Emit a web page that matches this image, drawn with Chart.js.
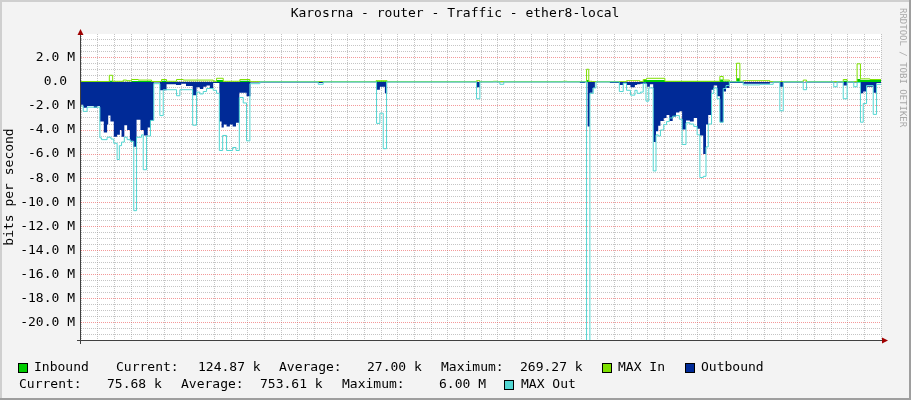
<!DOCTYPE html>
<html>
<head>
<meta charset="utf-8">
<script src="https://cdn.jsdelivr.net/npm/chart.js@4.4.1/dist/chart.umd.min.js"></script>
<style>
html,body{margin:0;padding:0;background:#F3F3F3;}
#wrap{width:911px;height:400px;position:relative;}
canvas{display:block;}
</style>
</head>
<body>
<div id="wrap"><canvas id="c" width="911" height="400"></canvas></div>
<script>
// ---- DATA (time = minutes after 18:00, values in Mbit/s) ----
const xTickLabels = ['18:00','20:00','22:00','00:00','02:00','04:00','06:00','08:00','10:00','12:00','14:00','16:00'];

const inboundT = [-9,42,48,82,118,136,145,235,247,277,295,522,542,901,905,1003,1042,1141,1147,1158,1171,1177,1363,1370,1388,1394,1431];
const inboundV = [0.02,0.1,0.02,0.08,0.02,0.1,0.02,0.15,0.02,0.1,0,0.05,0,0.15,0,0.15,0.05,0.2,0.05,0,0.3,0,0.1,0,0.25,0.15,0.15];

const maxInT = [-9,42,48,67,73,82,94,118,136,145,163,175,229,235,247,277,295,522,542,703,709,733,740,859,866,901,905,911,973,997,1003,1009,1042,1141,1147,1158,1171,1177,1183,1231,1291,1297,1363,1370,1388,1394,1411,1431];
const maxInV = [0.03,0.55,0.05,0.15,0.1,0.2,0.15,0.03,0.2,0.05,0.2,0.15,0.05,0.3,0.05,0.2,0.02,0.1,0.02,0.1,0.02,0.05,0.02,0.05,0.02,1.05,0.05,0.02,0.1,0.02,0.2,0.3,0.05,0.45,0.15,0.02,1.55,0.05,0.1,0.02,0.15,0.02,0.2,0.02,1.5,0.25,0.2,0.2];

const outboundT = [-9,-5,2,14,20,25,32,38,40,44,50,56,61,64,69,74,79,85,91,98,104,111,117,122,133,145,162,171,180,192,199,205,211,217,223,229,240,244,248,253,259,264,270,276,289,296,418,427,522,529,538,542,703,709,889,898,903,907,912,916,943,960,967,973,980,988,992,998,1010,1015,1021,1026,1030,1034,1040,1045,1050,1056,1062,1068,1073,1080,1087,1094,1100,1105,1111,1116,1120,1126,1130,1136,1141,1147,1152,1158,1183,1231,1249,1255,1363,1370,1388,1394,1399,1405,1417,1423,1431];
const outboundV = [-1.9,-2.15,-2.0,-2.15,-2.0,-3.3,-4.2,-3.55,-2.8,-3.3,-4.55,-4.4,-4.0,-4.55,-3.6,-4.0,-4.9,-5.4,-3.15,-4.0,-4.45,-3.8,-3.2,-0.05,-0.7,-0.2,-0.25,-0.15,-0.35,-1.1,-0.45,-0.6,-0.4,-0.3,-0.5,-0.1,-3.3,-3.8,-3.55,-3.7,-3.55,-3.7,-3.4,-0.9,-1.2,-0.05,-0.1,-0.02,-0.65,-0.4,-0.95,-0.02,-0.45,-0.02,-0.1,-0.02,-3.7,-0.9,-0.5,-0.02,-0.1,-0.25,-0.1,-0.25,-0.45,-0.25,-0.2,-0.15,-0.4,-0.2,-5.0,-4.1,-3.65,-3.25,-3.0,-2.75,-3.25,-2.9,-2.55,-2.45,-3.95,-3.2,-3.3,-3.0,-3.9,-4.45,-6.0,-3.55,-2.75,-0.65,-0.3,-1.2,-3.35,-0.8,-0.5,-0.1,-0.15,-0.05,-0.4,-0.05,-0.3,-0.05,-0.1,-0.95,-0.8,-0.4,-0.9,-0.1,-0.1];

const maxOutT = [-9,-5,2,25,28,38,45,50,56,60,64,69,74,80,86,91,100,103,109,116,122,133,139,163,169,192,199,205,211,217,229,235,240,246,253,264,270,276,283,289,295,313,418,427,523,529,535,541,703,709,745,752,901,907,913,918,960,967,973,980,988,992,998,1003,1008,1013,1021,1026,1030,1034,1040,1045,1050,1056,1062,1068,1073,1080,1087,1094,1100,1105,1111,1116,1120,1126,1130,1136,1141,1147,1152,1158,1183,1213,1237,1249,1255,1291,1297,1346,1352,1363,1370,1382,1388,1394,1399,1405,1417,1423,1431];
const maxOutV = [-2.0,-2.45,-2.1,-4.65,-4.8,-4.6,-4.75,-5.1,-6.45,-5.3,-5.0,-4.6,-4.8,-4.95,-10.7,-4.6,-4.4,-7.3,-4.5,-3.2,-0.15,-2.8,-0.65,-1.15,-0.65,-3.6,-0.85,-1.0,-0.8,-0.55,-0.7,-0.95,-5.7,-4.45,-5.7,-5.45,-5.7,-1.3,-1.75,-4.9,-0.15,0,-0.2,0,-3.45,-2.6,-5.55,0,-1.4,0,-0.2,0,-23,-0.95,-0.5,0,-0.8,-0.1,-0.7,-1.1,-0.7,-0.95,-0.85,-0.1,-1.6,-0.5,-7.4,-4.4,-4.5,-4.0,-3.55,-3.3,-3.0,-2.85,-2.8,-3.1,-5.2,-3.4,-3.5,-3.7,-4.4,-7.95,-7.85,-5.4,-3.5,-0.95,-0.5,-1.4,-3.35,-0.55,-0.3,0,-0.25,-0.2,0,-2.4,0,-0.65,0,-0.4,0,-1.4,0,-0.4,-0.05,-3.35,-1.8,-0.3,-2.7,-0.2,-0.2];

const inStats  = ['124.87 k', '27.00 k', '269.27 k'];
const outStats = ['75.68 k', '753.61 k', '6.00 M'];

// ---- COLORS ----
const C_IN = '#00CC00', C_MAXIN = '#7EE000', C_OUT = '#002A97', C_MAXOUT = '#52D6D2';
const FONT = '"DejaVu Sans Mono", monospace';

const pts = (t, v) => t.map((x, i) => ({x: x, y: v[i]}));

const isMajorY = v => Math.abs(v / 2 - Math.round(v / 2)) < 1e-6;

const decor = {
  id: 'decor',
  beforeDraw(chart) {
    const ctx = chart.ctx, a = chart.chartArea;
    ctx.save();
    ctx.fillStyle = '#F3F3F3';
    ctx.fillRect(0, 0, 911, 400);
    ctx.fillStyle = '#CFCFCF';
    ctx.fillRect(0, 0, 911, 2); ctx.fillRect(0, 0, 2, 400);
    ctx.fillStyle = '#9E9E9E';
    ctx.fillRect(0, 398, 911, 2); ctx.fillRect(909, 0, 2, 400);
    ctx.fillStyle = '#FFFFFF';
    ctx.fillRect(a.left, a.top, a.right - a.left, a.bottom - a.top);
    ctx.restore();
  },
  afterDraw(chart) {
    const ctx = chart.ctx, a = chart.chartArea;
    ctx.save();
    ctx.strokeStyle = '#404040';
    ctx.lineWidth = 1;
    ctx.beginPath();
    ctx.moveTo(a.left - 0.5, a.top - 3); ctx.lineTo(a.left - 0.5, a.bottom + 4);
    ctx.moveTo(a.left - 4, a.bottom + 0.5); ctx.lineTo(a.right + 4, a.bottom + 0.5);
    ctx.stroke();
    ctx.fillStyle = '#A00000';
    ctx.beginPath();
    ctx.moveTo(a.left - 3.5, a.top + 1); ctx.lineTo(a.left + 2.5, a.top + 1); ctx.lineTo(a.left - 0.5, a.top - 5);
    ctx.closePath(); ctx.fill();
    ctx.beginPath();
    ctx.moveTo(a.right + 1, a.bottom - 2.5); ctx.lineTo(a.right + 1, a.bottom + 3.5); ctx.lineTo(a.right + 7, a.bottom + 0.5);
    ctx.closePath(); ctx.fill();

    ctx.fillStyle = '#000';
    ctx.font = '13px ' + FONT;
    ctx.textBaseline = 'middle';
    ctx.textAlign = 'center';
    ctx.fillText('Karosrna - router - Traffic - ether8-local', 455, 14);

    ctx.save();
    ctx.translate(10, 187);
    ctx.rotate(-Math.PI / 2);
    ctx.fillText('bits per second', 0, 0);
    ctx.restore();

    ctx.save();
    ctx.translate(902, 8);
    ctx.rotate(Math.PI / 2);
    ctx.font = '9px ' + FONT;
    ctx.fillStyle = '#A8A8A8';
    ctx.textAlign = 'left';
    ctx.fillText('RRDTOOL / TOBI OETIKER', 0, 0);
    ctx.restore();

    ctx.textAlign = 'left';
    ctx.font = '13px ' + FONT;
    const box = (x, y, col) => {
      ctx.fillStyle = col; ctx.fillRect(x, y - 5, 10, 10);
      ctx.strokeStyle = '#000'; ctx.lineWidth = 1; ctx.strokeRect(x + 0.5, y - 4.5, 9, 9);
      ctx.fillStyle = '#000';
    };
    const t = (s, x, y) => ctx.fillText(s, x, y);
    const y1 = 368, y2 = 385;
    box(18, y1, C_IN); t('Inbound', 34, y1);
    t('Current:', 116, y1); t(inStats[0], 198, y1);
    t('Average:', 279, y1); t(inStats[1], 367, y1);
    t('Maximum:', 441, y1); t(inStats[2], 520, y1);
    box(602, y1, C_MAXIN); t('MAX In', 618, y1);
    box(685, y1, C_OUT); t('Outbound', 701, y1);
    t('Current:', 19, y2); t(outStats[0], 107, y2);
    t('Average:', 181, y2); t(outStats[1], 260, y2);
    t('Maximum:', 342, y2); t(outStats[2], 439, y2);
    box(504, y2, C_MAXOUT); t('MAX Out', 521, y2);
    ctx.restore();
  }
};

new Chart(document.getElementById('c'), {
  type: 'line',
  data: {
    datasets: [
      { label: 'Inbound', data: pts(inboundT, inboundV), stepped: true, fill: 'origin',
        backgroundColor: C_IN, borderColor: 'rgba(0,0,0,0)', borderWidth: 0, pointRadius: 0, order: 4 },
      { label: 'MAX In', data: pts(maxInT, maxInV), stepped: true, fill: false,
        borderColor: C_MAXIN, borderWidth: 1, pointRadius: 0, order: 3 },
      { label: 'Outbound', data: pts(outboundT, outboundV), stepped: true, fill: 'origin',
        backgroundColor: C_OUT, borderColor: 'rgba(0,0,0,0)', borderWidth: 0, pointRadius: 0, order: 2 },
      { label: 'MAX Out', data: pts(maxOutT, maxOutV), stepped: true, fill: false,
        borderColor: C_MAXOUT, borderWidth: 1, pointRadius: 0, order: 1 }
    ]
  },
  options: {
    responsive: false,
    animation: false,
    devicePixelRatio: 1,
    layout: { padding: { left: 0, top: 34, right: 30, bottom: 40 } },
    plugins: { legend: { display: false }, tooltip: { enabled: false }, title: { display: false } },
    scales: {
      x: {
        type: 'linear', min: -9, max: 1431,
        afterFit: s => { s.height = 20; },
        border: { display: false, dash: [1, 1] },
        grid: {
          drawTicks: false,
          color: c => (c.tick && c.tick.value % 120 === 0) ? 'rgba(235,70,70,0.55)' : 'rgba(150,150,150,0.55)',
          lineWidth: 1
        },
        ticks: {
          stepSize: 30, includeBounds: false, autoSkip: false, maxRotation: 0, minRotation: 0,
          maxTicksLimit: 1000, padding: 1, color: '#000',
          font: { family: FONT, size: 13 },
          callback: v => (v % 120 === 0 && v >= 0) ? xTickLabels[v / 120] : ''
        }
      },
      y: {
        type: 'linear', min: -21.45, max: 3.98,
        afterFit: s => { s.width = 81; },
        border: { display: false, dash: [1, 1] },
        grid: {
          drawTicks: false,
          color: c => (c.tick && isMajorY(c.tick.value)) ? 'rgba(235,70,70,0.55)' : 'rgba(150,150,150,0.55)',
          lineWidth: 1
        },
        ticks: {
          stepSize: 0.5, includeBounds: false, autoSkip: false, maxTicksLimit: 1000,
          padding: 6, color: '#000', font: { family: FONT, size: 13 },
          callback: v => {
            if (!isMajorY(v)) return '';
            const r = Math.round(v);
            return r === 0 ? '0.0 ' : r.toFixed(1) + ' M';
          }
        }
      }
    }
  },
  plugins: [decor]
});
</script>
</body>
</html>
